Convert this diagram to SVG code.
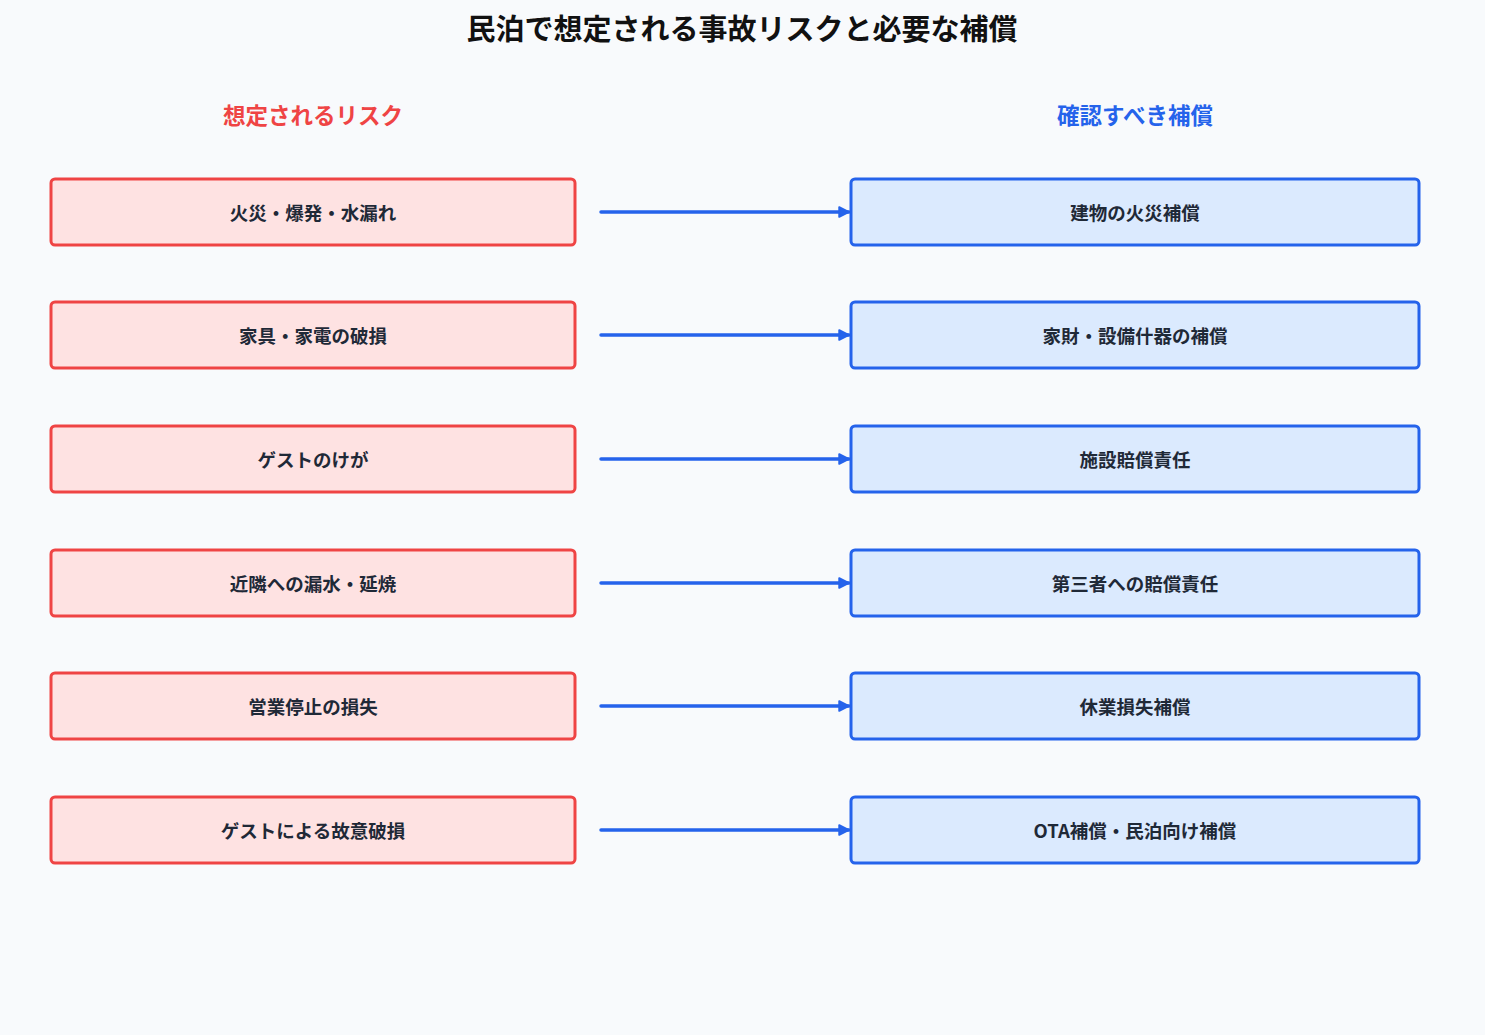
<svg xmlns="http://www.w3.org/2000/svg" width="1485" height="1035" viewBox="0 0 1485 1035">
<style>
text{font-family:"Noto Sans CJK JP","Noto Sans",sans-serif;font-weight:700;text-anchor:middle;dominant-baseline:central}
.title{font-size:29px;fill:#111111}
.hr{font-size:22.5px;fill:#ef4444}
.hb{font-size:22.5px;fill:#2563eb}
.risk rect{fill:#fee2e2;stroke:#ef4444;stroke-width:3}
.comp rect{fill:#dbeafe;stroke:#2563eb;stroke-width:3}
.lbl{font-size:18.5px;fill:#1f2937}
.conn line{stroke:#2563eb;stroke-width:3.5;stroke-linecap:round;marker-end:url(#ah)}
</style>
<defs>
<marker id="ah" viewBox="0 0 10 10" refX="9" refY="5" markerWidth="3.5" markerHeight="3.5" orient="auto" markerUnits="strokeWidth">
<path d="M1,1 L9,5 L1,9 Z" fill="#2563eb" stroke="#2563eb" stroke-width="1.5" stroke-linejoin="round"/>
</marker>
</defs>
<rect width="1485" height="1035" fill="#f8fafc"/>
<text class="title" x="742" y="27">民泊で想定される事故リスクと必要な補償</text>
<text class="hr" x="313" y="114">想定されるリスク</text>
<text class="hb" x="1135" y="114">確認すべき補償</text>
<g id="risk1" class="risk"><rect x="51" y="179" width="524" height="66" rx="4"/><text class="lbl" x="313" y="211.5">火災・爆発・水漏れ</text></g>
<g id="risk2" class="risk"><rect x="51" y="302" width="524" height="66" rx="4"/><text class="lbl" x="313" y="334.5">家具・家電の破損</text></g>
<g id="risk3" class="risk"><rect x="51" y="426" width="524" height="66" rx="4"/><text class="lbl" x="313" y="458.5">ゲストのけが</text></g>
<g id="risk4" class="risk"><rect x="51" y="550" width="524" height="66" rx="4"/><text class="lbl" x="313" y="582.5">近隣への漏水・延焼</text></g>
<g id="risk5" class="risk"><rect x="51" y="673" width="524" height="66" rx="4"/><text class="lbl" x="313" y="705.5">営業停止の損失</text></g>
<g id="risk6" class="risk"><rect x="51" y="797" width="524" height="66" rx="4"/><text class="lbl" x="313" y="829.5">ゲストによる故意破損</text></g>
<g id="comp1" class="comp"><rect x="851" y="179" width="568" height="66" rx="4"/><text class="lbl" x="1135" y="211.5">建物の火災補償</text></g>
<g id="comp2" class="comp"><rect x="851" y="302" width="568" height="66" rx="4"/><text class="lbl" x="1135" y="334.5">家財・設備什器の補償</text></g>
<g id="comp3" class="comp"><rect x="851" y="426" width="568" height="66" rx="4"/><text class="lbl" x="1135" y="458.5">施設賠償責任</text></g>
<g id="comp4" class="comp"><rect x="851" y="550" width="568" height="66" rx="4"/><text class="lbl" x="1135" y="582.5">第三者への賠償責任</text></g>
<g id="comp5" class="comp"><rect x="851" y="673" width="568" height="66" rx="4"/><text class="lbl" x="1135" y="705.5">休業損失補償</text></g>
<g id="comp6" class="comp"><rect x="851" y="797" width="568" height="66" rx="4"/><text class="lbl" x="1135" y="829.5">OTA補償・民泊向け補償</text></g>
<g id="connectors" class="conn">
<line x1="601" y1="212" x2="849" y2="212"/>
<line x1="601" y1="335" x2="849" y2="335"/>
<line x1="601" y1="459" x2="849" y2="459"/>
<line x1="601" y1="583" x2="849" y2="583"/>
<line x1="601" y1="706" x2="849" y2="706"/>
<line x1="601" y1="830" x2="849" y2="830"/>
</g>
</svg>
